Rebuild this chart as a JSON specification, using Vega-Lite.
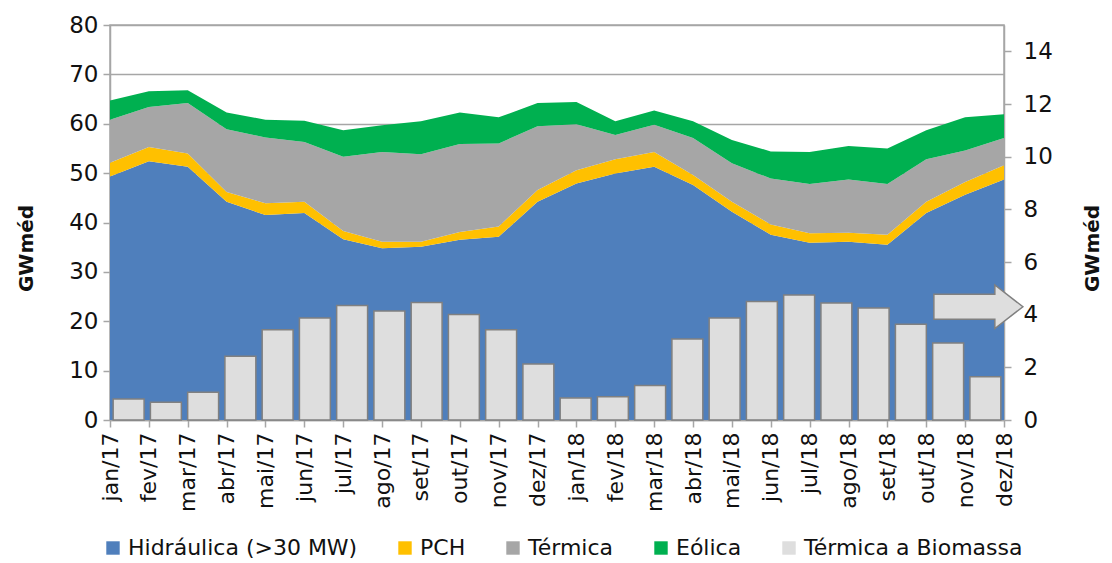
{
  "$schema": "https://vega.github.io/schema/vega-lite/v6.json",
  "width": 894,
  "height": 395,
  "autosize": {"type": "none"},
  "padding": {"left": 110, "top": 25, "right": 108, "bottom": 143},
  "background": "white",
  "config": {
    "font": "DejaVu Sans",
    "view": {"stroke": "#a6a6a6", "strokeWidth": 1.5},
    "axis": {"labelFont": "DejaVu Sans", "titleFont": "DejaVu Sans", "labelColor": "#111", "titleColor": "#111", "domainColor": "#a6a6a6", "tickColor": "#a6a6a6", "domainWidth": 1.5, "tickWidth": 1.5}
  },
  "datasets": {
    "areas": [
      {"mes":"jan/17","serie":"Hidráulica (>30 MW)","valor":49.3},{"mes":"jan/17","serie":"PCH","valor":2.8},{"mes":"jan/17","serie":"Térmica","valor":8.7},{"mes":"jan/17","serie":"Eólica","valor":3.9},
      {"mes":"fev/17","serie":"Hidráulica (>30 MW)","valor":52.4},{"mes":"fev/17","serie":"PCH","valor":2.9},{"mes":"fev/17","serie":"Térmica","valor":8.1},{"mes":"fev/17","serie":"Eólica","valor":3.2},
      {"mes":"mar/17","serie":"Hidráulica (>30 MW)","valor":51.3},{"mes":"mar/17","serie":"PCH","valor":2.7},{"mes":"mar/17","serie":"Térmica","valor":10.2},{"mes":"mar/17","serie":"Eólica","valor":2.6},
      {"mes":"abr/17","serie":"Hidráulica (>30 MW)","valor":44.2},{"mes":"abr/17","serie":"PCH","valor":2.0},{"mes":"abr/17","serie":"Térmica","valor":12.7},{"mes":"abr/17","serie":"Eólica","valor":3.4},
      {"mes":"mai/17","serie":"Hidráulica (>30 MW)","valor":41.5},{"mes":"mai/17","serie":"PCH","valor":2.4},{"mes":"mai/17","serie":"Térmica","valor":13.3},{"mes":"mai/17","serie":"Eólica","valor":3.6},
      {"mes":"jun/17","serie":"Hidráulica (>30 MW)","valor":41.9},{"mes":"jun/17","serie":"PCH","valor":2.3},{"mes":"jun/17","serie":"Térmica","valor":12.1},{"mes":"jun/17","serie":"Eólica","valor":4.3},
      {"mes":"jul/17","serie":"Hidráulica (>30 MW)","valor":36.6},{"mes":"jul/17","serie":"PCH","valor":1.7},{"mes":"jul/17","serie":"Térmica","valor":15.0},{"mes":"jul/17","serie":"Eólica","valor":5.4},
      {"mes":"ago/17","serie":"Hidráulica (>30 MW)","valor":34.8},{"mes":"ago/17","serie":"PCH","valor":1.3},{"mes":"ago/17","serie":"Térmica","valor":18.2},{"mes":"ago/17","serie":"Eólica","valor":5.4},
      {"mes":"set/17","serie":"Hidráulica (>30 MW)","valor":35.1},{"mes":"set/17","serie":"PCH","valor":1.0},{"mes":"set/17","serie":"Térmica","valor":17.7},{"mes":"set/17","serie":"Eólica","valor":6.7},
      {"mes":"out/17","serie":"Hidráulica (>30 MW)","valor":36.5},{"mes":"out/17","serie":"PCH","valor":1.6},{"mes":"out/17","serie":"Térmica","valor":17.8},{"mes":"out/17","serie":"Eólica","valor":6.4},
      {"mes":"nov/17","serie":"Hidráulica (>30 MW)","valor":37.1},{"mes":"nov/17","serie":"PCH","valor":2.1},{"mes":"nov/17","serie":"Térmica","valor":16.8},{"mes":"nov/17","serie":"Eólica","valor":5.3},
      {"mes":"dez/17","serie":"Hidráulica (>30 MW)","valor":44.2},{"mes":"dez/17","serie":"PCH","valor":2.4},{"mes":"dez/17","serie":"Térmica","valor":12.9},{"mes":"dez/17","serie":"Eólica","valor":4.7},
      {"mes":"jan/18","serie":"Hidráulica (>30 MW)","valor":47.9},{"mes":"jan/18","serie":"PCH","valor":2.7},{"mes":"jan/18","serie":"Térmica","valor":9.3},{"mes":"jan/18","serie":"Eólica","valor":4.5},
      {"mes":"fev/18","serie":"Hidráulica (>30 MW)","valor":49.9},{"mes":"fev/18","serie":"PCH","valor":2.9},{"mes":"fev/18","serie":"Térmica","valor":4.9},{"mes":"fev/18","serie":"Eólica","valor":2.8},
      {"mes":"mar/18","serie":"Hidráulica (>30 MW)","valor":51.3},{"mes":"mar/18","serie":"PCH","valor":3.0},{"mes":"mar/18","serie":"Térmica","valor":5.5},{"mes":"mar/18","serie":"Eólica","valor":2.9},
      {"mes":"abr/18","serie":"Hidráulica (>30 MW)","valor":47.6},{"mes":"abr/18","serie":"PCH","valor":2.0},{"mes":"abr/18","serie":"Térmica","valor":7.5},{"mes":"abr/18","serie":"Eólica","valor":3.4},
      {"mes":"mai/18","serie":"Hidráulica (>30 MW)","valor":42.2},{"mes":"mai/18","serie":"PCH","valor":2.0},{"mes":"mai/18","serie":"Térmica","valor":7.8},{"mes":"mai/18","serie":"Eólica","valor":4.7},
      {"mes":"jun/18","serie":"Hidráulica (>30 MW)","valor":37.5},{"mes":"jun/18","serie":"PCH","valor":2.1},{"mes":"jun/18","serie":"Térmica","valor":9.3},{"mes":"jun/18","serie":"Eólica","valor":5.5},
      {"mes":"jul/18","serie":"Hidráulica (>30 MW)","valor":35.9},{"mes":"jul/18","serie":"PCH","valor":1.9},{"mes":"jul/18","serie":"Térmica","valor":10.0},{"mes":"jul/18","serie":"Eólica","valor":6.5},
      {"mes":"ago/18","serie":"Hidráulica (>30 MW)","valor":36.1},{"mes":"ago/18","serie":"PCH","valor":1.8},{"mes":"ago/18","serie":"Térmica","valor":10.8},{"mes":"ago/18","serie":"Eólica","valor":6.8},
      {"mes":"set/18","serie":"Hidráulica (>30 MW)","valor":35.5},{"mes":"set/18","serie":"PCH","valor":2.0},{"mes":"set/18","serie":"Térmica","valor":10.3},{"mes":"set/18","serie":"Eólica","valor":7.2},
      {"mes":"out/18","serie":"Hidráulica (>30 MW)","valor":41.9},{"mes":"out/18","serie":"PCH","valor":2.3},{"mes":"out/18","serie":"Térmica","valor":8.6},{"mes":"out/18","serie":"Eólica","valor":5.9},
      {"mes":"nov/18","serie":"Hidráulica (>30 MW)","valor":45.6},{"mes":"nov/18","serie":"PCH","valor":2.6},{"mes":"nov/18","serie":"Térmica","valor":6.4},{"mes":"nov/18","serie":"Eólica","valor":6.7},
      {"mes":"dez/18","serie":"Hidráulica (>30 MW)","valor":48.7},{"mes":"dez/18","serie":"PCH","valor":2.9},{"mes":"dez/18","serie":"Térmica","valor":5.5},{"mes":"dez/18","serie":"Eólica","valor":4.8}
    ],
    "biomassa": [
      {"mes":"jan/17","valor":0.80},{"mes":"fev/17","valor":0.67},{"mes":"mar/17","valor":1.05},{"mes":"abr/17","valor":2.42},
      {"mes":"mai/17","valor":3.43},{"mes":"jun/17","valor":3.87},{"mes":"jul/17","valor":4.35},{"mes":"ago/17","valor":4.14},
      {"mes":"set/17","valor":4.46},{"mes":"out/17","valor":4.01},{"mes":"nov/17","valor":3.43},{"mes":"dez/17","valor":2.13},
      {"mes":"jan/18","valor":0.84},{"mes":"fev/18","valor":0.88},{"mes":"mar/18","valor":1.31},{"mes":"abr/18","valor":3.08},
      {"mes":"mai/18","valor":3.87},{"mes":"jun/18","valor":4.50},{"mes":"jul/18","valor":4.75},{"mes":"ago/18","valor":4.44},
      {"mes":"set/18","valor":4.25},{"mes":"out/18","valor":3.64},{"mes":"nov/18","valor":2.92},{"mes":"dez/18","valor":1.64}
    ],
    "seta": [{"mes":"dez/18","valor":4.3}]
  },
  "layer": [
    {
      "data": {"name": "areas"},
      "transform": [{"calculate": "indexof(['Hidráulica (>30 MW)','PCH','Térmica','Eólica'], datum.serie)", "as": "ordem"}],
      "mark": {"type": "area", "opacity": 1},
      "encoding": {
        "x": {"field": "mes", "type": "ordinal", "sort": null,
              "scale": {"type": "point", "padding": 0},
              "axis": {"title": null, "labelAngle": -90, "labelFontSize": 22, "labelPadding": 5, "tickSize": 7, "grid": false}},
        "y": {"field": "valor", "type": "quantitative", "stack": "zero",
              "scale": {"domain": [0, 80], "nice": false},
              "axis": {"title": "GWméd", "titleFontSize": 20, "titleFontWeight": "bold", "titlePadding": 32, "titleY": 223,
                       "values": [0,10,20,30,40,50,60,70,80], "labelFontSize": 23, "labelPadding": 5, "tickSize": 7,
                       "grid": true, "gridColor": "#a6a6a6", "gridWidth": 1.5}},
        "color": {"field": "serie", "type": "nominal",
                  "scale": {"domain": ["Hidráulica (>30 MW)", "PCH", "Térmica", "Eólica", "Térmica a Biomassa"],
                            "range": ["#4f7fbc", "#ffc000", "#a6a6a6", "#00b050", "#dedede"]},
                  "legend": {"title": null, "orient": "none", "legendX": -8, "legendY": 512, "direction": "horizontal",
                             "symbolType": "square", "symbolSize": 180, "symbolStrokeWidth": 1,
                             "labelFontSize": 22, "labelColor": "#111", "labelOffset": 4, "columnPadding": 36, "labelLimit": 400,
                             "encode": {"symbols": {"update": {"stroke": [{"test": "datum.value === 'Térmica a Biomassa'", "value": "#808080"}, {"value": "transparent"}]}}}}},
        "order": {"field": "ordem", "type": "quantitative", "sort": "ascending"}
      }
    },
    {
      "data": {"name": "biomassa"},
      "mark": {"type": "bar", "fill": "#dedede", "stroke": "#808080", "strokeWidth": 1.5},
      "encoding": {
        "x": {"field": "mes", "type": "ordinal", "sort": null,
              "scale": {"type": "band", "paddingInner": 0.17, "paddingOuter": 0.085}, "axis": null},
        "y": {"field": "valor", "type": "quantitative",
              "scale": {"domain": [0, 15], "nice": false},
              "axis": {"orient": "right", "title": "GWméd", "titleAngle": -90, "titleFontSize": 20, "titleFontWeight": "bold", "titlePadding": 50, "titleY": 223,
                       "values": [0,2,4,6,8,10,12,14], "labelFontSize": 23, "labelPadding": 12, "tickSize": 7, "grid": false}}
      }
    },
    {
      "data": {"name": "seta"},
      "mark": {"type": "point", "filled": true, "fill": "#dedede", "stroke": "#808080", "strokeWidth": 1.5, "opacity": 1, "size": 7921, "xOffset": -7,
               "shape": "M-1,-0.28L0.37,-0.28L0.37,-0.49L1,0L0.37,0.49L0.37,0.28L-1,0.28Z"},
      "encoding": {
        "x": {"field": "mes", "type": "ordinal", "scale": {"type": "band", "domain": ["jan/17","fev/17","mar/17","abr/17","mai/17","jun/17","jul/17","ago/17","set/17","out/17","nov/17","dez/17","jan/18","fev/18","mar/18","abr/18","mai/18","jun/18","jul/18","ago/18","set/18","out/18","nov/18","dez/18"], "paddingInner": 0.17, "paddingOuter": 0.085}, "axis": null},
        "y": {"field": "valor", "type": "quantitative", "scale": {"domain": [0, 15], "nice": false}, "axis": null}
      }
    }
  ],
  "resolve": {"scale": {"x": "independent", "y": "independent"}, "axis": {"x": "independent", "y": "independent"}}
}
